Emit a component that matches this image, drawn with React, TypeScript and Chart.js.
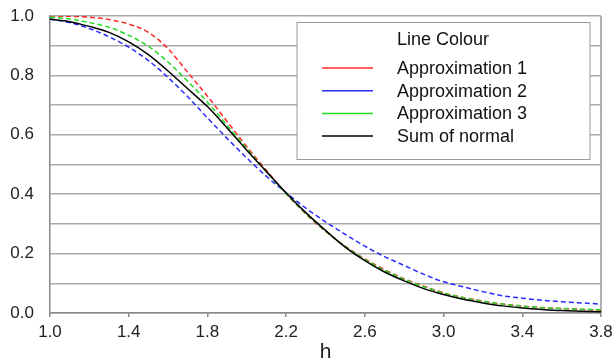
import React, { useEffect, useRef } from "react";
import { Chart, registerables } from "chart.js";

Chart.register(...registerables);

const hValues = [1.0, 1.1, 1.2, 1.3, 1.4, 1.5, 1.6, 1.7, 1.8, 1.9, 2.0, 2.1, 2.2, 2.3, 2.4, 2.5, 2.6, 2.7, 2.8, 2.9, 3.0, 3.1, 3.2, 3.3, 3.4, 3.5, 3.6, 3.7, 3.8];
const approx1 = [1.0, 0.999, 0.996, 0.988, 0.973, 0.945, 0.89, 0.81, 0.73, 0.645, 0.56, 0.48, 0.402, 0.333, 0.275, 0.225, 0.182, 0.146, 0.115, 0.09, 0.068, 0.052, 0.04, 0.03, 0.023, 0.018, 0.015, 0.012, 0.01];
const approx2 = [0.99, 0.978, 0.958, 0.93, 0.895, 0.85, 0.793, 0.728, 0.657, 0.588, 0.522, 0.46, 0.405, 0.353, 0.307, 0.265, 0.225, 0.19, 0.16, 0.13, 0.105, 0.088, 0.072, 0.058, 0.05, 0.043, 0.038, 0.034, 0.03];
const approx3 = [0.996, 0.99, 0.978, 0.962, 0.935, 0.898, 0.845, 0.78, 0.71, 0.632, 0.553, 0.476, 0.402, 0.335, 0.276, 0.224, 0.18, 0.143, 0.113, 0.088, 0.067, 0.051, 0.039, 0.03, 0.023, 0.018, 0.015, 0.013, 0.011];
const sumNormal = [0.989, 0.981, 0.965, 0.945, 0.913, 0.87, 0.815, 0.755, 0.695, 0.623, 0.548, 0.476, 0.404, 0.338, 0.278, 0.222, 0.176, 0.138, 0.108, 0.082, 0.062, 0.046, 0.034, 0.024, 0.017, 0.012, 0.008, 0.006, 0.004];

const seriesLabels = ["Approximation 1", "Approximation 2", "Approximation 3", "Sum of normal"];
const seriesColors = ["#ff2a2a", "#2a2aff", "#22dd22", "#000000"];
const xTicks = [1.0, 1.4, 1.8, 2.2, 2.6, 3.0, 3.4, 3.8];
const legendTitle = "Line Colour";
const xTitle = "h";

const FONT = "'Liberation Sans', Arial, sans-serif";

const legendPlugin = {
  id: "customLegend",
  afterDraw(chart: any) {
    const ctx = chart.ctx;
    const ca = chart.chartArea;
    ctx.save();
    const bx = ca.left + 247, by = ca.top + 6.5, bw = 293, bh = 137;
    ctx.fillStyle = "#ffffff";
    ctx.fillRect(bx, by, bw, bh);
    ctx.strokeStyle = "#999999";
    ctx.lineWidth = 1;
    ctx.strokeRect(bx, by, bw, bh);
    ctx.fillStyle = "#111111";
    ctx.font = "18px " + FONT;
    ctx.textAlign = "center";
    ctx.textBaseline = "middle";
    ctx.fillText(legendTitle, bx + 146, by + 18);
    ctx.textAlign = "left";
    chart.data.datasets.forEach((ds: any, i: number) => {
      const y = by + 45.5 + i * 22.7;
      ctx.strokeStyle = ds.borderColor;
      ctx.lineWidth = 1.5;
      ctx.setLineDash([]);
      ctx.beginPath();
      ctx.moveTo(bx + 25, y);
      ctx.lineTo(bx + 76, y);
      ctx.stroke();
      ctx.fillStyle = "#111111";
      ctx.fillText(ds.label, bx + 100, y + 1);
    });
    ctx.restore();
  },
  beforeDatasetsDraw(chart: any) {
    const ctx = chart.ctx;
    const ca = chart.chartArea;
    ctx.save();
    ctx.strokeStyle = "#999999";
    ctx.lineWidth = 1.5;
    ctx.beginPath();
    ctx.moveTo(ca.right, ca.top);
    ctx.lineTo(ca.right, ca.bottom);
    ctx.stroke();
    ctx.restore();
  },
};

export default function App() {
  const ref = useRef<HTMLCanvasElement>(null);
  useEffect(() => {
    if (!ref.current) return;
    const all = [approx1, approx2, approx3, sumNormal];
    const orders = [3, 2, 1, 0];
    const chart = new Chart(ref.current, {
      type: "line",
      data: {
        datasets: all.map((arr, i) => ({
          label: seriesLabels[i],
          data: hValues.map((h, j) => ({ x: h, y: arr[j] })),
          borderColor: seriesColors[i],
          borderWidth: 1.5,
          borderDash: i < 3 ? [5, 3] : [],
          pointRadius: 0,
          fill: false,
          cubicInterpolationMode: "monotone" as const,
          order: orders[i],
        })),
      },
      options: {
        responsive: false,
        animation: false,
        layout: { padding: { left: 0, right: 15, top: 16, bottom: 0 } },
        plugins: { legend: { display: false }, tooltip: { enabled: false }, title: { display: false } },
        scales: {
          x: {
            type: "linear",
            min: 1.0,
            max: 3.8,
            afterBuildTicks: (scale: any) => {
              scale.ticks = xTicks.map((v) => ({ value: v }));
            },
            afterFit: (scale: any) => {
              scale.height = 47;
              scale.paddingLeft = 0;
              scale.paddingRight = 0;
            },
            grid: { display: true, drawOnChartArea: false, drawTicks: true, tickLength: 4, color: "#888888", lineWidth: 1.5 },
            border: { display: true, color: "#888888", width: 1.5 },
            ticks: {
              color: "#222222",
              font: { family: FONT, size: 17 },
              padding: 5,
              maxRotation: 0,
              autoSkip: false,
              callback: (v: any) => Number(v).toFixed(1),
            },
            title: { display: true, text: xTitle, color: "#222222", font: { family: FONT, size: 21 }, padding: { top: 0, bottom: -5 } },
          },
          y: {
            type: "linear",
            min: 0,
            max: 1,
            afterFit: (scale: any) => {
              scale.width = 50;
              scale.paddingTop = 0;
              scale.paddingBottom = 0;
            },
            grid: { color: "#aaaaaa", lineWidth: 1.5, drawTicks: false },
            border: { display: true, color: "#888888", width: 1.5 },
            ticks: {
              stepSize: 0.1,
              color: "#222222",
              font: { family: FONT, size: 17 },
              padding: 16,
              autoSkip: false,
              callback: (v: any) => {
                const n = Math.round(Number(v) * 10);
                return n % 2 === 0 ? (n / 10).toFixed(1) : "";
              },
            },
          },
        },
      },
      plugins: [legendPlugin],
    });
    return () => chart.destroy();
  }, []);
  return (
    <div style={{ position: "absolute", left: 0, top: 0, width: 616, height: 360, background: "#fff" }}>
      <canvas ref={ref} width={616} height={360} />
    </div>
  );
}
